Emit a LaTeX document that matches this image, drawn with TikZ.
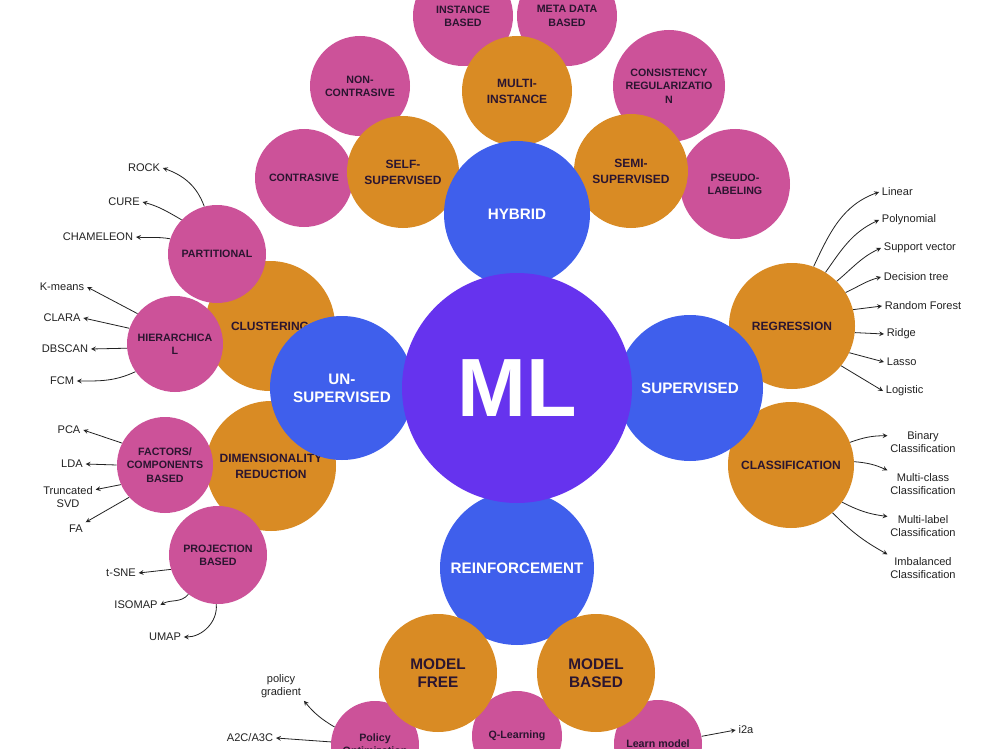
\documentclass[tikz,border=0pt]{standalone}
\usepackage{fontspec}
\setmainfont{Liberation Sans}
\definecolor{mlpurple}{HTML}{6633EE}
\definecolor{mlblue}{HTML}{3F5FEC}
\definecolor{mlorange}{HTML}{D98B24}
\definecolor{mlpink}{HTML}{CC5299}
\definecolor{mltext}{HTML}{2B1530}
\definecolor{leafgray}{HTML}{222222}
\begin{document}
\begin{tikzpicture}[x=0.75pt,y=0.75pt,>=stealth,
    bub/.style={circle,inner sep=0pt,align=center,minimum size=#1*1.5pt},
    core/.style={bub=#1,fill=mlpurple,text=white,font=\fontsize{62}{62}\selectfont\bfseries},
    branch/.style={bub=#1,fill=mlblue,text=white,font=\fontsize{11.4}{13.7}\selectfont\bfseries},
    topic/.style={bub=#1,fill=mlorange,text=mltext,font=\fontsize{9}{12}\selectfont\bfseries},
    bigtopic/.style={topic=#1,font=\fontsize{11.5}{13.7}\selectfont\bfseries},
    method/.style={bub=#1,fill=mlpink,text=mltext,font=\fontsize{8}{10}\selectfont\bfseries},
    leaf/.style={text=leafgray,font=\fontsize{8.3}{10}\selectfont,inner sep=2pt,align=center},
    arr/.style={->,draw=leafgray,line width=0.6pt}]
  \path[use as bounding box,fill=white] (0,0) rectangle (1000,-749);
  % orange topics left and right
  \node[topic=65] (clus) at (270,-326) {CLUSTERING};
  \node[topic=65] (dimr) at (271,-466) {DIMENSIONALITY\\REDUCTION};
  \node[topic=63] (reg) at (792,-326) {REGRESSION};
  \node[topic=63] (cls) at (791,-465) {CLASSIFICATION};
  % pink methods left
  \node[method=49] (part) at (217,-254) {PARTITIONAL};
  \node[method=48] (hier) at (175,-344) {HIERARCHICA\\L};
  \node[method=48] (fact) at (165,-465) {FACTORS/\\COMPONENTS\\BASED};
  \node[method=49] (proj) at (218,-555) {PROJECTION\\BASED};
  % hybrid family
  \node[method=49] (contr) at (304,-178) {CONTRASIVE};
  \node[method=50] (ncontr) at (360,-86) {NON-\\CONTRASIVE};
  \node[method=50] (inst) at (463,-16) {INSTANCE\\BASED};
  \node[method=50] (meta) at (567,-16) {META DATA\\BASED};
  \node[method=56] (cons) at (669,-86) {CONSISTENCY\\REGULARIZATIO\\N};
  \node[method=55] (pseudo) at (735,-184) {PSEUDO-\\LABELING};
  \node[topic=56] (self) at (403,-172) {SELF-\\SUPERVISED};
  \node[topic=55] (multi) at (517,-91) {MULTI-\\INSTANCE};
  \node[topic=57] (semi) at (631,-171) {SEMI-\\SUPERVISED};
  % blue branches
  \node[branch=72] (unsup) at (342,-388) {UN-\\SUPERVISED};
  \node[branch=73] (sup) at (690,-388) {SUPERVISED};
  \node[branch=73] (hyb) at (517,-214) {HYBRID};
  \node[branch=77] (reinf) at (517,-568) {REINFORCEMENT};
  % reinforcement family
  \node[method=44] (pol) at (375,-745) {Policy\\Optimization};
  \node[method=45] (qlearn) at (517,-736) {Q-Learning};
  \node[method=44] (learn) at (658,-744) {Learn model};
  \node[bigtopic=59] (mfree) at (438,-673) {MODEL\\FREE};
  \node[bigtopic=59] (mbased) at (596,-673) {MODEL\\BASED};
  \node[core=115] (ml) at (517,-388) {ML};
  % leaves
  \node[leaf] (rock) at (144,-168) {ROCK};
  \node[leaf] (cure) at (124,-202) {CURE};
  \node[leaf] (cham) at (98,-237) {CHAMELEON};
  \node[leaf] (kmeans) at (62,-287) {K-means};
  \node[leaf] (clara) at (62,-318) {CLARA};
  \node[leaf] (dbscan) at (65,-349) {DBSCAN};
  \node[leaf] (fcm) at (62,-381) {FCM};
  \node[leaf] (pca) at (69,-430) {PCA};
  \node[leaf] (lda) at (72,-464) {LDA};
  \node[leaf] (tsvd) at (68,-497) {Truncated\\SVD};
  \node[leaf] (fa) at (76,-529) {FA};
  \node[leaf] (tsne) at (121,-573) {t-SNE};
  \node[leaf] (iso) at (136,-605) {ISOMAP};
  \node[leaf] (umap) at (165,-637) {UMAP};
  \node[leaf,anchor=west] (lin) at (879,-192) {Linear};
  \node[leaf,anchor=west] (poly) at (879,-220) {Polynomial};
  \node[leaf,anchor=west] (svr) at (881,-248) {Support vector};
  \node[leaf,anchor=west] (dtree) at (881,-277) {Decision tree};
  \node[leaf,anchor=west] (rf) at (882,-306) {Random Forest};
  \node[leaf,anchor=west] (ridge) at (884,-334) {Ridge};
  \node[leaf,anchor=west] (lasso) at (884,-362) {Lasso};
  \node[leaf,anchor=west] (logi) at (883,-391) {Logistic};
  \node[leaf] (bin) at (923,-442) {Binary\\Classification};
  \node[leaf] (mcl) at (923,-484) {Multi-class\\Classification};
  \node[leaf] (mlab) at (923,-526) {Multi-label\\Classification};
  \node[leaf] (imb) at (923,-568) {Imbalanced\\Classification};
  \node[leaf] (pg) at (281,-686) {policy\\gradient};
  \node[leaf] (a2c) at (250,-738) {A2C/A3C};
  \node[leaf] (i2a) at (746,-730) {i2a};
  % arrows
  \draw[arr] (part.105) to[out=110,in=-20] (rock.east);
  \draw[arr] (part.136) to[out=150,in=-15] (cure.east);
  \draw[arr] (part.162) to[out=170,in=-5] (cham.east);
  \draw[arr] (hier.141) -- (kmeans.east);
  \draw[arr] (hier.161) -- (clara.east);
  \draw[arr] (hier.185) -- (dbscan.east);
  \draw[arr] (hier.215) to[out=205,in=0] (fcm.east);
  \draw[arr] (fact.153) -- (pca.east);
  \draw[arr] (fact.180) -- (lda.east);
  \draw[arr] (fact.204) -- (tsvd.15);
  \draw[arr] (fact.222) -- (fa.north east);
  \draw[arr] (proj.197) -- (tsne.east);
  \draw[arr] (proj.233) to[out=230,in=30] (iso.east);
  \draw[arr] (proj.268) to[out=-85,in=0] (umap.east);
  \draw[arr] (reg.70) to[out=65,in=-160] (lin.west);
  \draw[arr] (reg.58) to[out=55,in=-155] (poly.west);
  \draw[arr] (reg.45) to[out=40,in=-155] (svr.west);
  \draw[arr] (reg.32) to[out=25,in=-165] (dtree.west);
  \draw[arr] (reg.15) -- (rf.west);
  \draw[arr] (reg.-6) -- (ridge.west);
  \draw[arr] (reg.-25) -- (lasso.west);
  \draw[arr] (reg.-39) -- (logi.west);
  \draw[arr] (cls.21) to[bend left=10] (bin.170);
  \draw[arr] (cls.3) to[bend left=10] (mcl.north west);
  \draw[arr] (cls.-36) to[bend right=10] (mlab.165);
  \draw[arr] (cls.-49) to[bend right=8] (imb.north west);
  \draw[arr] (pol.156) to[bend left=10] (pg.south east);
  \draw[arr] (pol.176) -- (a2c.east);
  \draw[arr] (learn.10) -- (i2a.west);
\end{tikzpicture}
\end{document}
